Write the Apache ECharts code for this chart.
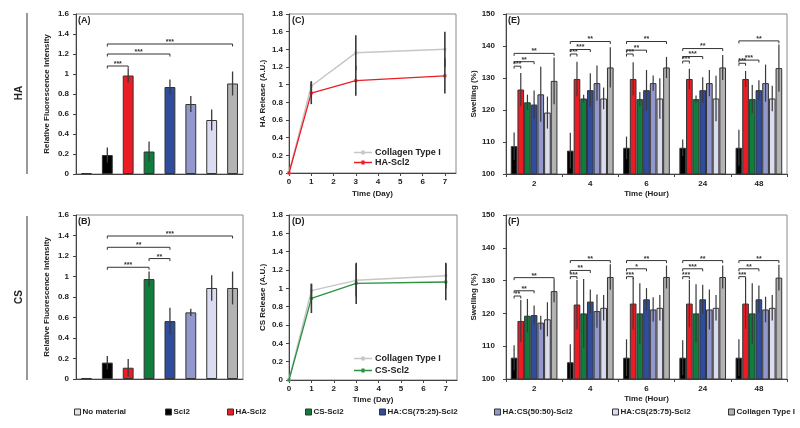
<!DOCTYPE html>
<html><head><meta charset="utf-8">
<script src="https://cdn.jsdelivr.net/npm/echarts@6/dist/echarts.min.js"></script>
<style>html,body{margin:0;padding:0;background:#fff}#c{width:800px;height:428px}</style>
</head><body><div id="c"></div>
<script>
// ---------- DATA ----------
const groups = ['No material','Scl2','HA-Scl2','CS-Scl2','HA:CS(75:25)-Scl2','HA:CS(50:50)-Scl2','HA:CS(25:75)-Scl2','Collagen Type I'];
// (A) HA relative fluorescence
const haFluor    = [0.01, 0.19, 0.985, 0.225, 0.87, 0.70, 0.54, 0.905];
const haFluorErr = [0, 0.075, 0.07, 0.10, 0.075, 0.08, 0.105, 0.12];
const haFluorSig = [[1,2,1.08,'***'],[1,4,1.20,'***'],[1,7,1.30,'***']];
// (B) CS relative fluorescence
const csFluor    = [0.01, 0.16, 0.11, 0.975, 0.565, 0.65, 0.888, 0.888];
const csFluorErr = [0, 0.065, 0.085, 0.075, 0.13, 0.035, 0.125, 0.16];
const csFluorSig = [[1,3,1.09,'***'],[3,4,1.175,'**'],[1,4,1.285,'**'],[1,7,1.395,'***']];
// (C)/(D) release
const days = [0, 1, 3, 7];
const dayTicks = ['0','1','2','3','4','5','6','7'];
const haCollagen    = [0, 0.985, 1.36, 1.40];
const haCollagenErr = [0, 0.055, 0.20, 0.20];
const haScl2        = [0, 0.905, 1.045, 1.10];
const haScl2Err     = [0, 0.125, 0.17, 0.20];
const csCollagen    = [0, 0.975, 1.087, 1.138];
const csCollagenErr = [0, 0.075, 0.175, 0.14];
const csScl2        = [0, 0.89, 1.055, 1.069];
const csScl2Err     = [0, 0.16, 0.225, 0.20];
// (E)/(F) swelling, rows = Scl2, HA-Scl2, CS-Scl2, 75:25, 50:50, 25:75, Collagen
const hours = ['2','4','6','24','48'];
const haSwell = [
  [108.7,107.3,108.2,108.2,108.2],
  [126.4,129.7,129.7,129.7,129.7],
  [122.4,123.6,123.4,123.4,123.4],
  [121.7,126.2,126.2,126.2,126.2],
  [124.9,128.4,128.4,128.4,128.4],
  [119.2,123.6,123.6,123.6,123.6],
  [129.1,133.3,133.3,133.3,133.1]];
const haSwellErr = [
  [4.3,5.6,3.5,2.6,5.6],
  [5.2,5.4,5.2,3.2,2.5],
  [2.4,1.2,2.2,1.1,4.4],
  [4.4,5.3,6.3,4.0,3.1],
  [8.6,5.5,2.4,4.1,5.8],
  [5.0,3.4,6.3,7.1,4.0],
  [7.3,6.3,3.3,3.9,7.4]];
const haSwellSig = [
  [0,0,1,133.7,'***'],[0,0,3,135.1,'**'],[0,0,6,137.7,'**'],
  [1,0,1,137.5,'***'],[1,0,3,138.9,'***'],[1,0,6,141.4,'**'],
  [2,0,1,137.5,'***'],[2,0,3,138.7,'**'],[2,0,6,141.4,'**'],
  [3,0,1,135.3,'***'],[3,0,3,136.7,'***'],[3,0,6,139.2,'**'],
  [4,0,1,134.6,'***'],[4,0,3,135.6,'***'],[4,0,6,141.6,'**']];
const csSwell = [
  [106.5,105.1,106.5,106.5,106.5],
  [117.7,122.7,123.0,123.0,123.0],
  [119.3,120.0,120.0,120.0,120.0],
  [119.5,123.6,124.3,124.3,124.3],
  [117.2,120.7,121.2,121.2,121.2],
  [118.2,121.7,121.7,121.7,121.7],
  [126.8,131.1,131.1,131.1,130.9]];
const csSwellErr = [
  [3.8,5.5,5.6,5.3,5.6],
  [6.4,7.5,7.9,7.2,7.7],
  [5.1,10.5,9.2,8.9,9.2],
  [2.9,3.7,3.4,4.4,4.2],
  [2.1,5.1,3.7,6.1,3.9],
  [5.2,3.9,3.9,3.9,3.9],
  [3.4,3.9,3.5,3.5,3.9]];
const csSwellSig = [
  [0,0,1,125.3,'**'],[0,0,3,126.9,'**'],[0,0,6,130.9,'**'],
  [1,0,1,131.2,'***'],[1,0,3,133.1,'**'],[1,0,6,136.1,'**'],
  [2,0,1,131.2,'***'],[2,0,3,133.6,'*'],[2,0,6,136.1,'**'],
  [3,0,1,131.2,'***'],[3,0,3,133.6,'***'],[3,0,6,136.1,'**'],
  [4,0,1,131.2,'***'],[4,0,3,133.6,'**'],[4,0,6,136.1,'**']];

// ---------- STYLE ----------
const FONT = "'Liberation Sans', Arial, sans-serif";
const COLORS = ['#e4e4e4','#000000','#ec1c24','#0f7d3c','#2f4d9c','#9297cc','#dcdcf0','#b3b3b3'];
const ERRC = '#3a3a3a';
const GAP = 0.17;

const grids = [
  {left:76, top:14, width:167, height:160},
  {left:76, top:215, width:167, height:164},
  {left:289, top:14, width:167, height:159},
  {left:289, top:215, width:168, height:165},
  {left:506, top:14, width:281, height:160},
  {left:506, top:215, width:281, height:164}
].map(g => Object.assign({show:true, borderColor:'#8a8a8a', borderWidth:1}, g));

const lblStyle = {fontSize:8, fontWeight:'bold', fontFamily:FONT, color:'#222'};
const nameStyle = {fontSize:8, fontWeight:'bold', fontFamily:FONT, color:'#222'};
const axLine = {show:true, lineStyle:{color:'#444', width:1}};

function yVal(g, min, max, interval, name, nameGap, margin){
  return {type:'value', gridIndex:g, min, max, interval, name, nameLocation:'middle', nameGap,
    nameTextStyle:nameStyle, axisLine:axLine, axisTick:{show:true, length:3, lineStyle:{color:'#444'}},
    axisLabel:Object.assign({margin}, lblStyle), splitLine:{show:false}};
}
const xAxis = [
  {type:'category', gridIndex:0, data:groups, axisLine:axLine, axisTick:{show:false}, axisLabel:{show:false}},
  {type:'category', gridIndex:1, data:groups, axisLine:axLine, axisTick:{show:false}, axisLabel:{show:false}},
  {type:'value', gridIndex:2, min:0, max:7.5, interval:1, name:'Time (Day)', nameLocation:'middle', nameGap:17,
   nameTextStyle:nameStyle, axisLine:axLine, axisTick:{show:true,length:3,lineStyle:{color:'#444'}},
   axisLabel:Object.assign({margin:5, showMaxLabel:false, formatter:v => dayTicks[v] || ''}, lblStyle), splitLine:{show:false}},
  {type:'value', gridIndex:3, min:0, max:7.5, interval:1, name:'Time (Day)', nameLocation:'middle', nameGap:16,
   nameTextStyle:nameStyle, axisLine:axLine, axisTick:{show:true,length:3,lineStyle:{color:'#444'}},
   axisLabel:Object.assign({margin:5, showMaxLabel:false, formatter:v => dayTicks[v] || ''}, lblStyle), splitLine:{show:false}},
  {type:'category', gridIndex:4, data:hours, name:'Time (Hour)', nameLocation:'middle', nameGap:16, nameTextStyle:nameStyle,
   axisLine:axLine, axisTick:{show:true,length:3,lineStyle:{color:'#444'}}, axisLabel:Object.assign({margin:6}, lblStyle)},
  {type:'category', gridIndex:5, data:hours, name:'Time (Hour)', nameLocation:'middle', nameGap:16, nameTextStyle:nameStyle,
   axisLine:axLine, axisTick:{show:true,length:3,lineStyle:{color:'#444'}}, axisLabel:Object.assign({margin:6}, lblStyle)}
];
const yAxis = [
  yVal(0, 0, 1.6, 0.2, 'Relative Fluorescence Intensity', 25, 7),
  yVal(1, 0, 1.6, 0.2, 'Relative Fluorescence Intensity', 25, 7),
  yVal(2, 0, 1.8, 0.2, 'HA Release (A.U.)', 22, 6),
  yVal(3, 0, 1.8, 0.2, 'CS Release (A.U.)', 22, 6),
  yVal(4, 100, 150, 10, 'Swelling (%)', 26, 11),
  yVal(5, 100, 150, 10, 'Swelling (%)', 26, 11)
];

const series = [];
function errLine(x, y1, y2, w){
  if (Math.abs(y1 - y2) < 0.5) return null;
  return {type:'line', shape:{x1:x, y1:y1, x2:x, y2:y2}, style:{stroke:ERRC, lineWidth:w}};
}
function bracket(x1, x2, y, txt){
  return {type:'group', children:[
    {type:'polyline', shape:{points:[[x1,y+2.5],[x1,y],[x2,y],[x2,y+2.5]]}, style:{stroke:'#333', fill:'none', lineWidth:1}},
    {type:'text', style:{text:txt, x:(x1+x2)/2, y:y+1.5, align:'center', verticalAlign:'bottom', fontSize:7, fontWeight:'bold', fontFamily:FONT, fill:'#333'}}
  ]};
}

// A / B
[[haFluor, haFluorErr, haFluorSig, 0], [csFluor, csFluorErr, csFluorSig, 1]].forEach(([vals, errs, sig, g]) => {
  groups.forEach((name, i) => {
    series.push({type:'bar', name, xAxisIndex:g, yAxisIndex:g, stack:'s'+g, barWidth:'52%',
      data: vals.map((v, j) => j === i ? v : '-'),
      itemStyle:{color:COLORS[i], borderColor:'#333', borderWidth:1}});
  });
  series.push({type:'custom', xAxisIndex:g, yAxisIndex:g, z:5, silent:true,
    data: vals.map((v, j) => [j, v - errs[j], v + errs[j]]),
    renderItem:(p, api) => {
      const c = api.value(0);
      const a = api.coord([c, api.value(1)]), b = api.coord([c, api.value(2)]);
      return errLine(a[0], a[1], b[1], 1.3);
    }});
  series.push({type:'custom', xAxisIndex:g, yAxisIndex:g, z:5, silent:true,
    data: sig.map(s => [s[0], s[2]]),
    renderItem:(p, api) => {
      const s = sig[p.dataIndex];
      const a = api.coord([s[0], s[2]]), b = api.coord([s[1], s[2]]);
      return bracket(a[0], b[0], a[1], s[3]);
    }});
});

// C / D
[[2, haCollagen, haCollagenErr, haScl2, haScl2Err, 'HA-Scl2 ', COLORS[2]],
 [3, csCollagen, csCollagenErr, csScl2, csScl2Err, 'CS-Scl2 ', '#2a9140']].forEach(([g, cv, ce, sv, se, sname, scol]) => {
  series.push({type:'line', name:'Collagen Type I ', xAxisIndex:g, yAxisIndex:g, data: days.map((d, i) => [d, cv[i]]),
    symbol:'rect', symbolSize:3, itemStyle:{color:'#c6c6c6'}, lineStyle:{color:'#c6c6c6', width:1.5}, z:3});
  series.push({type:'line', name:sname, xAxisIndex:g, yAxisIndex:g, data: days.map((d, i) => [d, sv[i]]),
    symbol:'rect', symbolSize:3, itemStyle:{color:scol}, lineStyle:{color:scol, width:1.3}, z:4});
  [[cv, ce], [sv, se]].forEach(([v, e]) => {
    series.push({type:'custom', xAxisIndex:g, yAxisIndex:g, z:6, silent:true,
      data: days.map((d, i) => [d, v[i] - e[i], v[i] + e[i]]),
      renderItem:(p, api) => {
        const a = api.coord([api.value(0), api.value(1)]), b = api.coord([api.value(0), api.value(2)]);
        return errLine(a[0], a[1], b[1], 1.6);
      }});
  });
});

// E / F
[[4, haSwell, haSwellErr, haSwellSig], [5, csSwell, csSwellErr, csSwellSig]].forEach(([g, rows, errs, sig]) => {
  rows.forEach((arr, i) => {
    series.push({type:'bar', name:groups[i+1], xAxisIndex:g, yAxisIndex:g, data:arr,
      barCategoryGap:(GAP*100)+'%', barGap:'0%',
      itemStyle:{color:COLORS[i+1], borderColor:'#333', borderWidth:1}});
  });
  const n = rows.length;
  rows.forEach((arr, i) => {
    series.push({type:'custom', xAxisIndex:g, yAxisIndex:g, z:5, silent:true,
      data: arr.map((v, j) => [j, v - errs[i][j], v + errs[i][j]]),
      renderItem:(p, api) => {
        const band = api.size([1, 0])[0], total = band * (1 - GAP), bw = total / n;
        const c = api.value(0);
        const a = api.coord([c, api.value(1)]), b = api.coord([c, api.value(2)]);
        const x = a[0] - total / 2 + bw * (i + 0.5);
        return errLine(x, a[1], b[1], 1.2);
      }});
  });
  series.push({type:'custom', xAxisIndex:g, yAxisIndex:g, z:6, silent:true,
    data: sig.map(s => [s[0], s[3]]),
    renderItem:(p, api) => {
      const s = sig[p.dataIndex];
      const band = api.size([1, 0])[0], total = band * (1 - GAP), bw = total / n;
      const a = api.coord([s[0], s[3]]);
      const x0 = a[0] - total / 2;
      return bracket(x0 + bw * (s[1] + 0.5), x0 + bw * (s[2] + 0.5), a[1], s[4]);
    }});
});

// legends
const legendPos = [74, 165, 227, 305, 379, 494, 612, 728];
const legend = groups.map((nm, i) => ({
  data:[nm], left:legendPos[i], top:408, padding:0, itemWidth:6, itemHeight:6, itemGap:0, icon:'rect',
  selectedMode:false, itemStyle:{borderColor:'#333', borderWidth:1},
  textStyle:{fontSize:8, fontWeight:'bold', fontFamily:FONT, color:'#222', padding:[0,0,0,-3]}
}));
const lineIcon = 'path://M0,4.4L7,4.4L7,3L10,3L10,4.4L17,4.4L17,5.6L10,5.6L10,7L7,7L7,5.6L0,5.6Z';
const lineLegendText = {fontSize:9, fontWeight:'bold', fontFamily:FONT, color:'#222', padding:[0,0,0,-2]};
legend.push({data:[{name:'Collagen Type I ', icon:lineIcon},{name:'HA-Scl2 ', icon:lineIcon}], left:354, top:148, orient:'vertical', padding:0, itemGap:1,
  itemWidth:18, itemHeight:9, selectedMode:false, itemStyle:{borderWidth:0}, textStyle:lineLegendText});
legend.push({data:[{name:'Collagen Type I ', icon:lineIcon},{name:'CS-Scl2 ', icon:lineIcon}], left:354, top:354, orient:'vertical', padding:0, itemGap:3,
  itemWidth:18, itemHeight:9, selectedMode:false, itemStyle:{borderWidth:0}, textStyle:lineLegendText});

const tFont = 'bold 9px ' + FONT;
const graphic = [
  {type:'text', x:19, y:93, rotation:Math.PI/2, style:{text:'HA', align:'center', verticalAlign:'middle', font:'bold 10px '+FONT, fill:'#222'}},
  {type:'text', x:19, y:297, rotation:Math.PI/2, style:{text:'CS', align:'center', verticalAlign:'middle', font:'bold 10px '+FONT, fill:'#222'}},
  {type:'line', shape:{x1:27, y1:13, x2:27, y2:174}, style:{stroke:'#333', lineWidth:1}},
  {type:'line', shape:{x1:27, y1:216, x2:27, y2:380}, style:{stroke:'#333', lineWidth:1}},
  {type:'text', x:78, y:16, style:{text:'(A)', font:tFont, fill:'#222'}},
  {type:'text', x:78, y:217, style:{text:'(B)', font:tFont, fill:'#222'}},
  {type:'text', x:292, y:16, style:{text:'(C)', font:tFont, fill:'#222'}},
  {type:'text', x:292, y:217, style:{text:'(D)', font:tFont, fill:'#222'}},
  {type:'text', x:508, y:16, style:{text:'(E)', font:tFont, fill:'#222'}},
  {type:'text', x:508, y:217, style:{text:'(F)', font:tFont, fill:'#222'}}
];

const chart = echarts.init(document.getElementById('c'), null, {renderer:'canvas'});
chart.setOption({animation:false, backgroundColor:'#fff', textStyle:{fontFamily:FONT},
  grid:grids, xAxis, yAxis, series, legend, graphic});
</script></body></html>
